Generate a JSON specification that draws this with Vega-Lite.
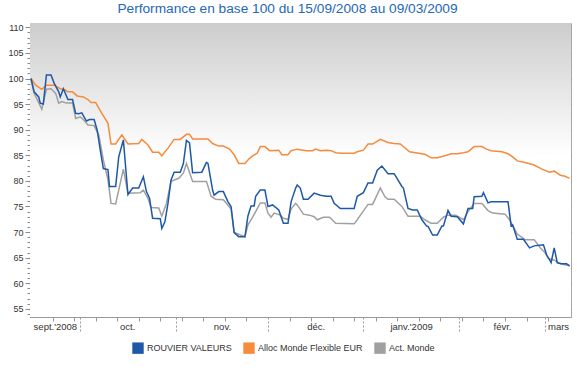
{
  "$schema": "https://vega.github.io/schema/vega-lite/v6.json",
  "width": 541,
  "height": 294,
  "autosize": {"type": "none"},
  "padding": {"left": 30, "top": 23, "right": 6, "bottom": 62},
  "background": "white",
  "title": {"text": "Performance en base 100 du 15/09/2008 au 09/03/2009", "color": "#2468b8", "font": "Liberation Sans", "fontSize": 13.7, "fontWeight": "normal", "anchor": "middle", "offset": 7, "dx": -13},
  "config": {
    "view": {"stroke": "#a8a8a8"},
    "font": "Liberation Sans",
    "legend": {
      "orient": "none", "legendX": 102, "legendY": 319, "direction": "horizontal", "title": null,
      "symbolType": "square", "symbolSize": 130, "symbolStrokeWidth": 0,
      "labelFont": "Liberation Sans", "labelFontSize": 9, "labelColor": "#333333", "columnPadding": 11, "labelOffset": 3
    }
  },
  "layer": [
    {
      "data": {"values": [{}]},
      "mark": {"type": "rect", "fill": {"gradient": "linear", "x1": 0, "y1": 0, "x2": 0, "y2": 1, "stops": [{"offset": 0, "color": "#cdcdcd"}, {"offset": 0.45, "color": "#ffffff"}, {"offset": 1, "color": "#ffffff"}]}},
      "encoding": {}
    },
    {
      "data": {"values": [
        {"s": "Act. Monde", "d": "2008-09-15T00:00", "v": 100}, {"s": "Act. Monde", "d": "2008-09-16T00:00", "v": 97.1}, {"s": "Act. Monde", "d": "2008-09-17T12:00", "v": 95.3}, {"s": "Act. Monde", "d": "2008-09-18T12:00", "v": 94.0},
        {"s": "Act. Monde", "d": "2008-09-20T00:00", "v": 97.9}, {"s": "Act. Monde", "d": "2008-09-21T12:00", "v": 98.0}, {"s": "Act. Monde", "d": "2008-09-23T00:00", "v": 97.1}, {"s": "Act. Monde", "d": "2008-09-24T00:00", "v": 95.2},
        {"s": "Act. Monde", "d": "2008-09-25T00:00", "v": 95.5}, {"s": "Act. Monde", "d": "2008-09-26T12:00", "v": 95.2}, {"s": "Act. Monde", "d": "2008-09-28T12:00", "v": 95.2}, {"s": "Act. Monde", "d": "2008-09-29T12:00", "v": 92.2},
        {"s": "Act. Monde", "d": "2008-10-01T00:00", "v": 92.5}, {"s": "Act. Monde", "d": "2008-10-02T00:00", "v": 92.0}, {"s": "Act. Monde", "d": "2008-10-03T12:00", "v": 90.9}, {"s": "Act. Monde", "d": "2008-10-05T12:00", "v": 90.8},
        {"s": "Act. Monde", "d": "2008-10-07T00:00", "v": 89.0}, {"s": "Act. Monde", "d": "2008-10-08T12:00", "v": 84.1}, {"s": "Act. Monde", "d": "2008-10-10T00:00", "v": 80.2}, {"s": "Act. Monde", "d": "2008-10-11T00:00", "v": 75.6},
        {"s": "Act. Monde", "d": "2008-10-12T12:00", "v": 75.5}, {"s": "Act. Monde", "d": "2008-10-15T00:00", "v": 82.3}, {"s": "Act. Monde", "d": "2008-10-16T12:00", "v": 77.6}, {"s": "Act. Monde", "d": "2008-10-20T12:00", "v": 77.7},
        {"s": "Act. Monde", "d": "2008-10-21T12:00", "v": 78.2}, {"s": "Act. Monde", "d": "2008-10-23T00:00", "v": 76.6}, {"s": "Act. Monde", "d": "2008-10-24T00:00", "v": 74.8}, {"s": "Act. Monde", "d": "2008-10-26T12:00", "v": 74.7},
        {"s": "Act. Monde", "d": "2008-10-27T12:00", "v": 73.1}, {"s": "Act. Monde", "d": "2008-10-29T00:00", "v": 75.6}, {"s": "Act. Monde", "d": "2008-10-30T12:00", "v": 79.9}, {"s": "Act. Monde", "d": "2008-11-02T00:00", "v": 80.5},
        {"s": "Act. Monde", "d": "2008-11-03T12:00", "v": 81.5}, {"s": "Act. Monde", "d": "2008-11-04T12:00", "v": 83.4}, {"s": "Act. Monde", "d": "2008-11-06T12:00", "v": 79.9}, {"s": "Act. Monde", "d": "2008-11-11T00:00", "v": 79.9},
        {"s": "Act. Monde", "d": "2008-11-12T12:00", "v": 77.0}, {"s": "Act. Monde", "d": "2008-11-14T00:00", "v": 76.4}, {"s": "Act. Monde", "d": "2008-11-16T12:00", "v": 76.3}, {"s": "Act. Monde", "d": "2008-11-19T00:00", "v": 74.5},
        {"s": "Act. Monde", "d": "2008-11-20T00:00", "v": 69.9}, {"s": "Act. Monde", "d": "2008-11-23T12:00", "v": 69.1}, {"s": "Act. Monde", "d": "2008-11-24T12:00", "v": 71.4}, {"s": "Act. Monde", "d": "2008-11-26T00:00", "v": 72.9},
        {"s": "Act. Monde", "d": "2008-11-27T00:00", "v": 74.0}, {"s": "Act. Monde", "d": "2008-11-28T12:00", "v": 75.7}, {"s": "Act. Monde", "d": "2008-11-30T00:00", "v": 75.7}, {"s": "Act. Monde", "d": "2008-12-01T00:00", "v": 73.7},
        {"s": "Act. Monde", "d": "2008-12-02T00:00", "v": 72.9}, {"s": "Act. Monde", "d": "2008-12-03T00:00", "v": 73.7}, {"s": "Act. Monde", "d": "2008-12-05T00:00", "v": 73.3}, {"s": "Act. Monde", "d": "2008-12-06T00:00", "v": 72.7},
        {"s": "Act. Monde", "d": "2008-12-07T12:00", "v": 72.5}, {"s": "Act. Monde", "d": "2008-12-08T12:00", "v": 74.5}, {"s": "Act. Monde", "d": "2008-12-10T00:00", "v": 75.6}, {"s": "Act. Monde", "d": "2008-12-10T12:00", "v": 75.3},
        {"s": "Act. Monde", "d": "2008-12-12T12:00", "v": 73.5}, {"s": "Act. Monde", "d": "2008-12-14T12:00", "v": 73.3}, {"s": "Act. Monde", "d": "2008-12-16T00:00", "v": 73.0}, {"s": "Act. Monde", "d": "2008-12-17T00:00", "v": 72.4},
        {"s": "Act. Monde", "d": "2008-12-19T00:00", "v": 72.9}, {"s": "Act. Monde", "d": "2008-12-21T00:00", "v": 72.9}, {"s": "Act. Monde", "d": "2008-12-23T00:00", "v": 71.7}, {"s": "Act. Monde", "d": "2008-12-29T00:00", "v": 71.6},
        {"s": "Act. Monde", "d": "2008-12-30T00:00", "v": 72.4}, {"s": "Act. Monde", "d": "2008-12-31T12:00", "v": 73.7}, {"s": "Act. Monde", "d": "2009-01-02T12:00", "v": 75.4}, {"s": "Act. Monde", "d": "2009-01-04T00:00", "v": 75.4},
        {"s": "Act. Monde", "d": "2009-01-06T12:00", "v": 78.6}, {"s": "Act. Monde", "d": "2009-01-08T00:00", "v": 76.9}, {"s": "Act. Monde", "d": "2009-01-09T00:00", "v": 76.4}, {"s": "Act. Monde", "d": "2009-01-11T00:00", "v": 76.4},
        {"s": "Act. Monde", "d": "2009-01-13T12:00", "v": 75.0}, {"s": "Act. Monde", "d": "2009-01-15T12:00", "v": 73.1}, {"s": "Act. Monde", "d": "2009-01-19T12:00", "v": 73.1}, {"s": "Act. Monde", "d": "2009-01-21T00:00", "v": 72.4},
        {"s": "Act. Monde", "d": "2009-01-23T00:00", "v": 71.7}, {"s": "Act. Monde", "d": "2009-01-25T00:00", "v": 71.7}, {"s": "Act. Monde", "d": "2009-01-27T00:00", "v": 72.9}, {"s": "Act. Monde", "d": "2009-01-28T12:00", "v": 73.3},
        {"s": "Act. Monde", "d": "2009-01-31T00:00", "v": 73.3}, {"s": "Act. Monde", "d": "2009-02-02T12:00", "v": 72.4}, {"s": "Act. Monde", "d": "2009-02-04T00:00", "v": 74.0}, {"s": "Act. Monde", "d": "2009-02-06T00:00", "v": 75.6},
        {"s": "Act. Monde", "d": "2009-02-08T12:00", "v": 75.6}, {"s": "Act. Monde", "d": "2009-02-10T12:00", "v": 74.2}, {"s": "Act. Monde", "d": "2009-02-12T00:00", "v": 73.7}, {"s": "Act. Monde", "d": "2009-02-16T00:00", "v": 73.5},
        {"s": "Act. Monde", "d": "2009-02-17T12:00", "v": 72.4}, {"s": "Act. Monde", "d": "2009-02-20T00:00", "v": 69.6}, {"s": "Act. Monde", "d": "2009-02-22T12:00", "v": 68.5}, {"s": "Act. Monde", "d": "2009-02-25T12:00", "v": 68.5},
        {"s": "Act. Monde", "d": "2009-02-27T12:00", "v": 66.9}, {"s": "Act. Monde", "d": "2009-03-01T00:00", "v": 66.0}, {"s": "Act. Monde", "d": "2009-03-02T00:00", "v": 64.9}, {"s": "Act. Monde", "d": "2009-03-04T00:00", "v": 64.5},
        {"s": "Act. Monde", "d": "2009-03-06T00:00", "v": 63.8}, {"s": "Act. Monde", "d": "2009-03-09T00:00", "v": 63.4},
        {"s": "Alloc Monde Flexible EUR", "d": "2008-09-15T00:00", "v": 100}, {"s": "Alloc Monde Flexible EUR", "d": "2008-09-16T12:00", "v": 98.7}, {"s": "Alloc Monde Flexible EUR", "d": "2008-09-18T12:00", "v": 97.9}, {"s": "Alloc Monde Flexible EUR", "d": "2008-09-20T00:00", "v": 98.7},
        {"s": "Alloc Monde Flexible EUR", "d": "2008-09-22T12:00", "v": 98.7}, {"s": "Alloc Monde Flexible EUR", "d": "2008-09-24T12:00", "v": 98.0}, {"s": "Alloc Monde Flexible EUR", "d": "2008-09-26T00:00", "v": 97.8}, {"s": "Alloc Monde Flexible EUR", "d": "2008-09-27T00:00", "v": 97.4},
        {"s": "Alloc Monde Flexible EUR", "d": "2008-09-28T12:00", "v": 97.4}, {"s": "Alloc Monde Flexible EUR", "d": "2008-09-30T00:00", "v": 96.6}, {"s": "Alloc Monde Flexible EUR", "d": "2008-10-02T00:00", "v": 96.4}, {"s": "Alloc Monde Flexible EUR", "d": "2008-10-03T12:00", "v": 95.9},
        {"s": "Alloc Monde Flexible EUR", "d": "2008-10-04T12:00", "v": 95.3}, {"s": "Alloc Monde Flexible EUR", "d": "2008-10-06T00:00", "v": 95.3}, {"s": "Alloc Monde Flexible EUR", "d": "2008-10-08T00:00", "v": 93.2}, {"s": "Alloc Monde Flexible EUR", "d": "2008-10-10T00:00", "v": 91.3},
        {"s": "Alloc Monde Flexible EUR", "d": "2008-10-11T00:00", "v": 87.2}, {"s": "Alloc Monde Flexible EUR", "d": "2008-10-12T12:00", "v": 87.2}, {"s": "Alloc Monde Flexible EUR", "d": "2008-10-14T12:00", "v": 89.0}, {"s": "Alloc Monde Flexible EUR", "d": "2008-10-16T12:00", "v": 87.2},
        {"s": "Alloc Monde Flexible EUR", "d": "2008-10-20T00:00", "v": 87.3}, {"s": "Alloc Monde Flexible EUR", "d": "2008-10-21T00:00", "v": 88.1}, {"s": "Alloc Monde Flexible EUR", "d": "2008-10-23T00:00", "v": 87.0}, {"s": "Alloc Monde Flexible EUR", "d": "2008-10-24T12:00", "v": 85.6},
        {"s": "Alloc Monde Flexible EUR", "d": "2008-10-26T12:00", "v": 85.6}, {"s": "Alloc Monde Flexible EUR", "d": "2008-10-27T12:00", "v": 84.9}, {"s": "Alloc Monde Flexible EUR", "d": "2008-10-29T12:00", "v": 86.4}, {"s": "Alloc Monde Flexible EUR", "d": "2008-10-31T12:00", "v": 88.1},
        {"s": "Alloc Monde Flexible EUR", "d": "2008-11-02T12:00", "v": 88.1}, {"s": "Alloc Monde Flexible EUR", "d": "2008-11-04T12:00", "v": 89.1}, {"s": "Alloc Monde Flexible EUR", "d": "2008-11-05T12:00", "v": 89.1}, {"s": "Alloc Monde Flexible EUR", "d": "2008-11-06T12:00", "v": 88.2},
        {"s": "Alloc Monde Flexible EUR", "d": "2008-11-11T12:00", "v": 88.2}, {"s": "Alloc Monde Flexible EUR", "d": "2008-11-13T00:00", "v": 87.3}, {"s": "Alloc Monde Flexible EUR", "d": "2008-11-15T00:00", "v": 86.8}, {"s": "Alloc Monde Flexible EUR", "d": "2008-11-16T12:00", "v": 86.8},
        {"s": "Alloc Monde Flexible EUR", "d": "2008-11-18T12:00", "v": 86.2}, {"s": "Alloc Monde Flexible EUR", "d": "2008-11-20T00:00", "v": 85.1}, {"s": "Alloc Monde Flexible EUR", "d": "2008-11-21T12:00", "v": 83.4}, {"s": "Alloc Monde Flexible EUR", "d": "2008-11-23T12:00", "v": 83.4},
        {"s": "Alloc Monde Flexible EUR", "d": "2008-11-25T00:00", "v": 84.4}, {"s": "Alloc Monde Flexible EUR", "d": "2008-11-26T00:00", "v": 84.9}, {"s": "Alloc Monde Flexible EUR", "d": "2008-11-27T12:00", "v": 85.4}, {"s": "Alloc Monde Flexible EUR", "d": "2008-11-28T12:00", "v": 86.7},
        {"s": "Alloc Monde Flexible EUR", "d": "2008-11-30T00:00", "v": 86.7}, {"s": "Alloc Monde Flexible EUR", "d": "2008-12-01T12:00", "v": 85.9}, {"s": "Alloc Monde Flexible EUR", "d": "2008-12-04T12:00", "v": 86.0}, {"s": "Alloc Monde Flexible EUR", "d": "2008-12-05T12:00", "v": 85.1},
        {"s": "Alloc Monde Flexible EUR", "d": "2008-12-07T12:00", "v": 85.1}, {"s": "Alloc Monde Flexible EUR", "d": "2008-12-08T12:00", "v": 85.9}, {"s": "Alloc Monde Flexible EUR", "d": "2008-12-10T12:00", "v": 86.2}, {"s": "Alloc Monde Flexible EUR", "d": "2008-12-13T12:00", "v": 85.9},
        {"s": "Alloc Monde Flexible EUR", "d": "2008-12-15T12:00", "v": 85.9}, {"s": "Alloc Monde Flexible EUR", "d": "2008-12-16T12:00", "v": 86.2}, {"s": "Alloc Monde Flexible EUR", "d": "2008-12-18T00:00", "v": 85.9}, {"s": "Alloc Monde Flexible EUR", "d": "2008-12-20T00:00", "v": 86.0},
        {"s": "Alloc Monde Flexible EUR", "d": "2008-12-21T12:00", "v": 85.9}, {"s": "Alloc Monde Flexible EUR", "d": "2008-12-23T00:00", "v": 85.5}, {"s": "Alloc Monde Flexible EUR", "d": "2008-12-25T00:00", "v": 85.4}, {"s": "Alloc Monde Flexible EUR", "d": "2008-12-29T00:00", "v": 85.4},
        {"s": "Alloc Monde Flexible EUR", "d": "2008-12-30T00:00", "v": 85.7}, {"s": "Alloc Monde Flexible EUR", "d": "2009-01-01T00:00", "v": 86.0}, {"s": "Alloc Monde Flexible EUR", "d": "2009-01-02T12:00", "v": 87.2}, {"s": "Alloc Monde Flexible EUR", "d": "2009-01-04T00:00", "v": 87.2},
        {"s": "Alloc Monde Flexible EUR", "d": "2009-01-06T12:00", "v": 88.1}, {"s": "Alloc Monde Flexible EUR", "d": "2009-01-09T00:00", "v": 87.5}, {"s": "Alloc Monde Flexible EUR", "d": "2009-01-11T00:00", "v": 87.3}, {"s": "Alloc Monde Flexible EUR", "d": "2009-01-13T00:00", "v": 87.2},
        {"s": "Alloc Monde Flexible EUR", "d": "2009-01-16T00:00", "v": 85.7}, {"s": "Alloc Monde Flexible EUR", "d": "2009-01-18T00:00", "v": 85.5}, {"s": "Alloc Monde Flexible EUR", "d": "2009-01-21T00:00", "v": 85.2}, {"s": "Alloc Monde Flexible EUR", "d": "2009-01-23T00:00", "v": 84.5},
        {"s": "Alloc Monde Flexible EUR", "d": "2009-01-25T00:00", "v": 84.5}, {"s": "Alloc Monde Flexible EUR", "d": "2009-01-27T12:00", "v": 84.9}, {"s": "Alloc Monde Flexible EUR", "d": "2009-01-29T12:00", "v": 85.3}, {"s": "Alloc Monde Flexible EUR", "d": "2009-01-31T12:00", "v": 85.3},
        {"s": "Alloc Monde Flexible EUR", "d": "2009-02-02T12:00", "v": 85.5}, {"s": "Alloc Monde Flexible EUR", "d": "2009-02-04T00:00", "v": 85.7}, {"s": "Alloc Monde Flexible EUR", "d": "2009-02-06T00:00", "v": 86.7}, {"s": "Alloc Monde Flexible EUR", "d": "2009-02-08T12:00", "v": 86.7},
        {"s": "Alloc Monde Flexible EUR", "d": "2009-02-10T00:00", "v": 86.2}, {"s": "Alloc Monde Flexible EUR", "d": "2009-02-11T12:00", "v": 85.9}, {"s": "Alloc Monde Flexible EUR", "d": "2009-02-15T00:00", "v": 85.7}, {"s": "Alloc Monde Flexible EUR", "d": "2009-02-17T00:00", "v": 85.3},
        {"s": "Alloc Monde Flexible EUR", "d": "2009-02-18T12:00", "v": 84.7}, {"s": "Alloc Monde Flexible EUR", "d": "2009-02-20T00:00", "v": 83.9}, {"s": "Alloc Monde Flexible EUR", "d": "2009-02-22T12:00", "v": 83.6}, {"s": "Alloc Monde Flexible EUR", "d": "2009-02-25T12:00", "v": 83.1},
        {"s": "Alloc Monde Flexible EUR", "d": "2009-02-28T00:00", "v": 82.3}, {"s": "Alloc Monde Flexible EUR", "d": "2009-03-02T12:00", "v": 81.7}, {"s": "Alloc Monde Flexible EUR", "d": "2009-03-04T00:00", "v": 81.9}, {"s": "Alloc Monde Flexible EUR", "d": "2009-03-06T00:00", "v": 81.1},
        {"s": "Alloc Monde Flexible EUR", "d": "2009-03-07T12:00", "v": 80.9}, {"s": "Alloc Monde Flexible EUR", "d": "2009-03-09T00:00", "v": 80.5},
        {"s": "ROUVIER VALEURS", "d": "2008-09-15T00:00", "v": 100}, {"s": "ROUVIER VALEURS", "d": "2008-09-16T00:00", "v": 97.4}, {"s": "ROUVIER VALEURS", "d": "2008-09-17T12:00", "v": 96.4}, {"s": "ROUVIER VALEURS", "d": "2008-09-18T00:00", "v": 95.2},
        {"s": "ROUVIER VALEURS", "d": "2008-09-19T00:00", "v": 95.0}, {"s": "ROUVIER VALEURS", "d": "2008-09-20T00:00", "v": 100.7}, {"s": "ROUVIER VALEURS", "d": "2008-09-21T12:00", "v": 100.7}, {"s": "ROUVIER VALEURS", "d": "2008-09-22T12:00", "v": 99.1},
        {"s": "ROUVIER VALEURS", "d": "2008-09-24T00:00", "v": 97.4}, {"s": "ROUVIER VALEURS", "d": "2008-09-24T12:00", "v": 96.4}, {"s": "ROUVIER VALEURS", "d": "2008-09-25T12:00", "v": 98.0}, {"s": "ROUVIER VALEURS", "d": "2008-09-27T00:00", "v": 95.9},
        {"s": "ROUVIER VALEURS", "d": "2008-09-28T12:00", "v": 95.9}, {"s": "ROUVIER VALEURS", "d": "2008-09-29T12:00", "v": 93.2}, {"s": "ROUVIER VALEURS", "d": "2008-09-30T12:00", "v": 93.1}, {"s": "ROUVIER VALEURS", "d": "2008-10-01T12:00", "v": 93.3},
        {"s": "ROUVIER VALEURS", "d": "2008-10-03T00:00", "v": 91.7}, {"s": "ROUVIER VALEURS", "d": "2008-10-04T00:00", "v": 92.0}, {"s": "ROUVIER VALEURS", "d": "2008-10-05T12:00", "v": 92.0}, {"s": "ROUVIER VALEURS", "d": "2008-10-06T12:00", "v": 89.9},
        {"s": "ROUVIER VALEURS", "d": "2008-10-07T12:00", "v": 86.0}, {"s": "ROUVIER VALEURS", "d": "2008-10-08T12:00", "v": 82.4}, {"s": "ROUVIER VALEURS", "d": "2008-10-10T00:00", "v": 82.2}, {"s": "ROUVIER VALEURS", "d": "2008-10-10T12:00", "v": 78.9},
        {"s": "ROUVIER VALEURS", "d": "2008-10-12T12:00", "v": 78.9}, {"s": "ROUVIER VALEURS", "d": "2008-10-13T12:00", "v": 84.7}, {"s": "ROUVIER VALEURS", "d": "2008-10-15T00:00", "v": 88.0}, {"s": "ROUVIER VALEURS", "d": "2008-10-16T12:00", "v": 77.3},
        {"s": "ROUVIER VALEURS", "d": "2008-10-18T00:00", "v": 78.6}, {"s": "ROUVIER VALEURS", "d": "2008-10-20T00:00", "v": 78.6}, {"s": "ROUVIER VALEURS", "d": "2008-10-21T12:00", "v": 80.8}, {"s": "ROUVIER VALEURS", "d": "2008-10-22T12:00", "v": 77.9},
        {"s": "ROUVIER VALEURS", "d": "2008-10-23T12:00", "v": 76.6}, {"s": "ROUVIER VALEURS", "d": "2008-10-24T12:00", "v": 72.7}, {"s": "ROUVIER VALEURS", "d": "2008-10-27T00:00", "v": 72.6}, {"s": "ROUVIER VALEURS", "d": "2008-10-27T12:00", "v": 70.7},
        {"s": "ROUVIER VALEURS", "d": "2008-10-28T12:00", "v": 72.0}, {"s": "ROUVIER VALEURS", "d": "2008-10-29T12:00", "v": 75.6}, {"s": "ROUVIER VALEURS", "d": "2008-10-30T12:00", "v": 80.2}, {"s": "ROUVIER VALEURS", "d": "2008-10-31T12:00", "v": 81.7},
        {"s": "ROUVIER VALEURS", "d": "2008-11-02T12:00", "v": 81.7}, {"s": "ROUVIER VALEURS", "d": "2008-11-03T12:00", "v": 83.4}, {"s": "ROUVIER VALEURS", "d": "2008-11-04T12:00", "v": 87.9}, {"s": "ROUVIER VALEURS", "d": "2008-11-05T12:00", "v": 87.4},
        {"s": "ROUVIER VALEURS", "d": "2008-11-06T12:00", "v": 81.6}, {"s": "ROUVIER VALEURS", "d": "2008-11-09T12:00", "v": 81.7}, {"s": "ROUVIER VALEURS", "d": "2008-11-11T00:00", "v": 83.6}, {"s": "ROUVIER VALEURS", "d": "2008-11-11T12:00", "v": 83.4},
        {"s": "ROUVIER VALEURS", "d": "2008-11-13T00:00", "v": 78.2}, {"s": "ROUVIER VALEURS", "d": "2008-11-13T12:00", "v": 77.2}, {"s": "ROUVIER VALEURS", "d": "2008-11-15T00:00", "v": 77.9}, {"s": "ROUVIER VALEURS", "d": "2008-11-16T12:00", "v": 77.9},
        {"s": "ROUVIER VALEURS", "d": "2008-11-18T00:00", "v": 75.9}, {"s": "ROUVIER VALEURS", "d": "2008-11-19T00:00", "v": 75.0}, {"s": "ROUVIER VALEURS", "d": "2008-11-20T00:00", "v": 69.9}, {"s": "ROUVIER VALEURS", "d": "2008-11-21T12:00", "v": 69.1},
        {"s": "ROUVIER VALEURS", "d": "2008-11-23T12:00", "v": 69.1}, {"s": "ROUVIER VALEURS", "d": "2008-11-24T12:00", "v": 73.2}, {"s": "ROUVIER VALEURS", "d": "2008-11-25T12:00", "v": 75.1}, {"s": "ROUVIER VALEURS", "d": "2008-11-26T12:00", "v": 75.1},
        {"s": "ROUVIER VALEURS", "d": "2008-11-27T00:00", "v": 77.0}, {"s": "ROUVIER VALEURS", "d": "2008-11-28T12:00", "v": 78.2}, {"s": "ROUVIER VALEURS", "d": "2008-11-30T00:00", "v": 78.2}, {"s": "ROUVIER VALEURS", "d": "2008-12-01T00:00", "v": 75.0},
        {"s": "ROUVIER VALEURS", "d": "2008-12-02T12:00", "v": 75.3}, {"s": "ROUVIER VALEURS", "d": "2008-12-04T12:00", "v": 74.3}, {"s": "ROUVIER VALEURS", "d": "2008-12-06T00:00", "v": 71.7}, {"s": "ROUVIER VALEURS", "d": "2008-12-07T12:00", "v": 71.7},
        {"s": "ROUVIER VALEURS", "d": "2008-12-08T12:00", "v": 75.9}, {"s": "ROUVIER VALEURS", "d": "2008-12-10T00:00", "v": 78.6}, {"s": "ROUVIER VALEURS", "d": "2008-12-10T12:00", "v": 79.2}, {"s": "ROUVIER VALEURS", "d": "2008-12-11T12:00", "v": 78.6},
        {"s": "ROUVIER VALEURS", "d": "2008-12-12T12:00", "v": 76.4}, {"s": "ROUVIER VALEURS", "d": "2008-12-14T00:00", "v": 76.4}, {"s": "ROUVIER VALEURS", "d": "2008-12-16T00:00", "v": 77.6}, {"s": "ROUVIER VALEURS", "d": "2008-12-18T00:00", "v": 77.2},
        {"s": "ROUVIER VALEURS", "d": "2008-12-20T00:00", "v": 77.0}, {"s": "ROUVIER VALEURS", "d": "2008-12-21T12:00", "v": 77.0}, {"s": "ROUVIER VALEURS", "d": "2008-12-22T12:00", "v": 75.6}, {"s": "ROUVIER VALEURS", "d": "2008-12-24T12:00", "v": 74.6},
        {"s": "ROUVIER VALEURS", "d": "2008-12-29T00:00", "v": 74.6}, {"s": "ROUVIER VALEURS", "d": "2008-12-30T00:00", "v": 77.0}, {"s": "ROUVIER VALEURS", "d": "2009-01-01T00:00", "v": 77.7}, {"s": "ROUVIER VALEURS", "d": "2009-01-02T12:00", "v": 79.6},
        {"s": "ROUVIER VALEURS", "d": "2009-01-04T00:00", "v": 79.6}, {"s": "ROUVIER VALEURS", "d": "2009-01-05T12:00", "v": 82.1}, {"s": "ROUVIER VALEURS", "d": "2009-01-07T00:00", "v": 82.9}, {"s": "ROUVIER VALEURS", "d": "2009-01-09T00:00", "v": 81.4},
        {"s": "ROUVIER VALEURS", "d": "2009-01-11T00:00", "v": 81.4}, {"s": "ROUVIER VALEURS", "d": "2009-01-13T12:00", "v": 78.9}, {"s": "ROUVIER VALEURS", "d": "2009-01-14T00:00", "v": 78.6}, {"s": "ROUVIER VALEURS", "d": "2009-01-15T12:00", "v": 74.6},
        {"s": "ROUVIER VALEURS", "d": "2009-01-17T00:00", "v": 74.3}, {"s": "ROUVIER VALEURS", "d": "2009-01-18T12:00", "v": 74.3}, {"s": "ROUVIER VALEURS", "d": "2009-01-20T00:00", "v": 72.4}, {"s": "ROUVIER VALEURS", "d": "2009-01-21T12:00", "v": 71.2},
        {"s": "ROUVIER VALEURS", "d": "2009-01-22T00:00", "v": 71.1}, {"s": "ROUVIER VALEURS", "d": "2009-01-23T12:00", "v": 69.4}, {"s": "ROUVIER VALEURS", "d": "2009-01-25T00:00", "v": 69.4}, {"s": "ROUVIER VALEURS", "d": "2009-01-26T12:00", "v": 71.2},
        {"s": "ROUVIER VALEURS", "d": "2009-01-27T00:00", "v": 71.2}, {"s": "ROUVIER VALEURS", "d": "2009-01-28T12:00", "v": 74.2}, {"s": "ROUVIER VALEURS", "d": "2009-01-29T12:00", "v": 73.1}, {"s": "ROUVIER VALEURS", "d": "2009-01-31T12:00", "v": 73.0},
        {"s": "ROUVIER VALEURS", "d": "2009-02-02T12:00", "v": 71.6}, {"s": "ROUVIER VALEURS", "d": "2009-02-04T00:00", "v": 74.6}, {"s": "ROUVIER VALEURS", "d": "2009-02-05T12:00", "v": 74.6}, {"s": "ROUVIER VALEURS", "d": "2009-02-06T00:00", "v": 76.9},
        {"s": "ROUVIER VALEURS", "d": "2009-02-08T12:00", "v": 77.0}, {"s": "ROUVIER VALEURS", "d": "2009-02-09T00:00", "v": 77.7}, {"s": "ROUVIER VALEURS", "d": "2009-02-10T12:00", "v": 75.7}, {"s": "ROUVIER VALEURS", "d": "2009-02-11T12:00", "v": 75.9},
        {"s": "ROUVIER VALEURS", "d": "2009-02-17T00:00", "v": 75.9}, {"s": "ROUVIER VALEURS", "d": "2009-02-18T00:00", "v": 71.2}, {"s": "ROUVIER VALEURS", "d": "2009-02-18T12:00", "v": 71.4}, {"s": "ROUVIER VALEURS", "d": "2009-02-20T00:00", "v": 68.6},
        {"s": "ROUVIER VALEURS", "d": "2009-02-22T00:00", "v": 68.6}, {"s": "ROUVIER VALEURS", "d": "2009-02-24T00:00", "v": 66.9}, {"s": "ROUVIER VALEURS", "d": "2009-02-25T12:00", "v": 67.3}, {"s": "ROUVIER VALEURS", "d": "2009-02-28T12:00", "v": 67.5},
        {"s": "ROUVIER VALEURS", "d": "2009-03-01T12:00", "v": 65.6}, {"s": "ROUVIER VALEURS", "d": "2009-03-03T00:00", "v": 64.0}, {"s": "ROUVIER VALEURS", "d": "2009-03-04T00:00", "v": 66.9}, {"s": "ROUVIER VALEURS", "d": "2009-03-05T00:00", "v": 64.0},
        {"s": "ROUVIER VALEURS", "d": "2009-03-06T12:00", "v": 63.8}, {"s": "ROUVIER VALEURS", "d": "2009-03-08T00:00", "v": 63.8}, {"s": "ROUVIER VALEURS", "d": "2009-03-09T00:00", "v": 63.4}
      ]},
      "mark": {"type": "line", "strokeWidth": 1.5},
      "encoding": {
        "x": {
          "field": "d", "type": "temporal",
          "scale": {"domain": [{"year": 2008, "month": 9, "date": 14, "hours": 16}, {"year": 2009, "month": 3, "date": 9, "hours": 11}]},
          "axis": {
            "title": null,
            "values": [
              {"year": 2008, "month": 9, "date": 22}, {"year": 2008, "month": 9, "date": 29}, {"year": 2008, "month": 10, "date": 6}, {"year": 2008, "month": 10, "date": 13},
              {"year": 2008, "month": 10, "date": 20}, {"year": 2008, "month": 10, "date": 27}, {"year": 2008, "month": 11, "date": 3}, {"year": 2008, "month": 11, "date": 10},
              {"year": 2008, "month": 11, "date": 17}, {"year": 2008, "month": 11, "date": 24}, {"year": 2008, "month": 12, "date": 8}, {"year": 2008, "month": 12, "date": 15},
              {"year": 2008, "month": 12, "date": 22}, {"year": 2008, "month": 12, "date": 29}, {"year": 2009, "month": 1, "date": 5}, {"year": 2009, "month": 1, "date": 12},
              {"year": 2009, "month": 1, "date": 19}, {"year": 2009, "month": 1, "date": 26}, {"year": 2009, "month": 2, "date": 2}, {"year": 2009, "month": 2, "date": 9},
              {"year": 2009, "month": 2, "date": 16}, {"year": 2009, "month": 2, "date": 23}, {"year": 2009, "month": 3, "date": 2},
              {"year": 2008, "month": 10, "date": 1}, {"year": 2008, "month": 11, "date": 1}, {"year": 2008, "month": 12, "date": 1},
              {"year": 2009, "month": 1, "date": 1}, {"year": 2009, "month": 2, "date": 1}, {"year": 2009, "month": 3, "date": 1},
              {"year": 2008, "month": 9, "date": 22, "hours": 18}, {"year": 2008, "month": 10, "date": 16, "hours": 6}, {"year": 2008, "month": 11, "date": 16, "hours": 1},
              {"year": 2008, "month": 12, "date": 16, "hours": 12}, {"year": 2009, "month": 1, "date": 16, "hours": 12}, {"year": 2009, "month": 2, "date": 15, "hours": 1},
              {"year": 2009, "month": 3, "date": 5, "hours": 6}
            ],
            "labelExpr": "hours(datum.value) > 0 ? [\"janv.'2009\", \"févr.\", \"mars\", \"\", \"\", \"\", \"\", \"\", \"sept.'2008\", \"oct.\", \"nov.\", \"déc.\"][month(datum.value)] : ''",
            "tickSize": {"condition": [{"test": "date(datum.value) === 1 && hours(datum.value) === 0", "value": 15}, {"test": "hours(datum.value) > 0", "value": 0}], "value": 4},
            "tickDash": {"condition": {"test": "date(datum.value) === 1 && hours(datum.value) === 0", "value": [2, 2]}, "value": []},
            "tickColor": "#999999",
            "domainColor": "#999999",
            "grid": false,
            "labelOverlap": false,
            "labelFlush": false,
            "labelFont": "Liberation Sans",
            "labelFontSize": 9.5,
            "labelColor": "#333333",
            "labelPadding": 4
          }
        },
        "y": {
          "field": "v", "type": "quantitative",
          "scale": {"domain": [53.4, 110.85], "nice": false, "zero": false},
          "axis": {
            "title": null,
            "values": [54, 55, 56, 57, 58, 59, 60, 61, 62, 63, 64, 65, 66, 67, 68, 69, 70, 71, 72, 73, 74, 75, 76, 77, 78, 79, 80, 81, 82, 83, 84, 85, 86, 87, 88, 89, 90, 91, 92, 93, 94, 95, 96, 97, 98, 99, 100, 101, 102, 103, 104, 105, 106, 107, 108, 109, 110],
            "labelExpr": "datum.value % 5 === 0 ? datum.label : ''",
            "tickSize": {"condition": {"test": "datum.value % 5 === 0", "value": 5}, "value": 3},
            "grid": true,
            "gridOpacity": {"condition": {"test": "datum.value % 5 === 0", "value": 1}, "value": 0},
            "gridDash": [2, 2],
            "gridColor": "#8a8a8a",
            "tickColor": "#8a8a8a",
            "domainColor": "#8a8a8a",
            "labelOverlap": false,
            "labelFlush": false,
            "labelFont": "Liberation Sans",
            "labelFontSize": 9,
            "labelColor": "#333333",
            "labelPadding": 2
          }
        },
        "color": {
          "field": "s", "type": "nominal",
          "scale": {"domain": ["ROUVIER VALEURS", "Alloc Monde Flexible EUR", "Act. Monde"], "range": ["#1f58a8", "#f68b3c", "#a0a0a0"]},
          "legend": {"encode": {"symbols": {"update": {"fill": {"scale": "color", "field": "value"}, "stroke": {"value": "transparent"}, "shape": {"value": "square"}}}}}
        }
      }
    }
  ]
}
